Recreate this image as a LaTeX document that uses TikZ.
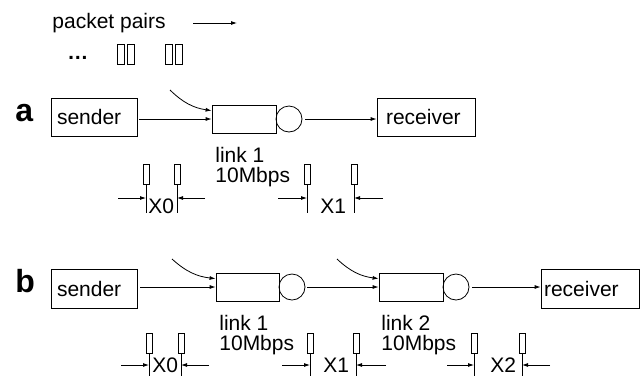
\documentclass[tikz,border=0pt]{standalone}
\usepackage{fontspec}
\setmainfont{Liberation Sans}
\usetikzlibrary{arrows.meta,calc}
\begin{document}
\begin{tikzpicture}[x=1pt,y=-1pt,
  line width=0.8pt,
  txt/.style={inner sep=0pt, font=\fontsize{21}{20}\selectfont},
  lab/.style={inner sep=0pt, font=\fontsize{32}{32}\selectfont\bfseries},
  arr/.style={-{Latex[length=6pt,width=4pt]}},
  hostbox/.style={draw, minimum height=38pt, inner ysep=0pt, align=left, font=\fontsize{21}{20}\selectfont},
  queue/.style={draw, minimum width=64pt, minimum height=28pt, inner sep=0pt},
  server/.style={draw, circle, minimum size=26pt, inner sep=0pt},
  pkt/.style={draw, minimum width=6pt, minimum height=20pt, inner sep=0pt},
  ppkt/.style={draw, minimum width=7pt, minimum height=20pt, inner sep=0pt}]
\useasboundingbox (0,0) rectangle (644,376);

% legend
\node[txt, anchor=base west] (pp) at (52,28) {packet pairs};
\coordinate (pa) at (193,23);
\coordinate (pb) at (237,23);
\draw[arr] (pa) -- (pb);
\node[txt, anchor=base west, font=\fontsize{21}{20}\selectfont\bfseries] (dots) at (67,59) {…};
\node[ppkt] (pp1) at (120.5,54) {};
\node[ppkt] (pp2) at (130.5,54) {};
\node[ppkt] (pp3) at (168.5,54) {};
\node[ppkt] (pp4) at (178.5,54) {};

% ---------- row a ----------
\node[lab, anchor=base west] (la) at (15,121) {a};
\node[hostbox, text width=74pt, inner xsep=6pt] (sa) at (94,117) {sender};
\node[queue] (qa) at (244,119) {};
\node[server] (ca) at (289,119) {};
\node[hostbox, text width=80pt, inner xsep=9pt] (ra) at (426,117) {receiver};
\draw[arr, shorten <=2pt] (sa.east |- qa.west) -- (qa.west);
\draw[arr, shorten <=3pt] (ca.east) -- (ca.east -| ra.west);
\coordinate (ina) at (170,90);
\draw[arr] (ina) to[bend right=18] ($(qa.north west)+(0,6)$);
\node[txt, anchor=base west] (lka) at (215,162) {link 1};
\node[txt, anchor=base west] (rta) at (215,182) {10Mbps};

\foreach \n/\x in {1/146,2/177,3/307,4/354}{
  \node[pkt] (pa\n) at (\x,174) {};
  \draw (pa\n.south) -- ++(0,29);
}
\coordinate (aa1) at (118,198);
\coordinate (aa2) at (205,198);
\coordinate (aa3) at (278,198);
\coordinate (aa4) at (383,198);
\draw[arr] (aa1) -- (aa1 -| pa1);
\draw[arr] (aa2) -- (aa2 -| pa2);
\draw[arr] (aa3) -- (aa3 -| pa3);
\draw[arr] (aa4) -- (aa4 -| pa4);
\node[txt, anchor=base west] (xa0) at (148,213) {X0};
\node[txt, anchor=base west] (xa1) at (320,213) {X1};

% ---------- row b ----------
\node[lab, anchor=base west] (lb) at (15,292) {b};
\node[hostbox, text width=74pt, inner xsep=6pt, minimum height=39pt] (sb) at (94,288.5) {sender};
\node[queue, minimum width=63pt] (qb1) at (247.5,287) {};
\node[server] (cb1) at (292,287) {};
\node[queue] (qb2) at (411,287) {};
\node[server] (cb2) at (456,287) {};
\node[hostbox, text width=92pt, inner xsep=3pt, minimum height=39pt] (rb) at (590,288.5) {receiver};
\draw[arr, shorten <=3pt] (sb.east |- qb1.west) -- (qb1.west);
\draw[arr, shorten <=2pt] (cb1.east) -- (qb2.west);
\draw[arr, shorten <=3pt] (cb2.east) -- (cb2.east -| rb.west);
\coordinate (inb1) at (172,259);
\coordinate (inb2) at (337,259);
\draw[arr] (inb1) to[bend right=18] ($(qb1.north west)+(0,6)$);
\draw[arr] (inb2) to[bend right=18] ($(qb2.north west)+(0,6)$);
\node[txt, anchor=base west] (lkb1) at (219,330) {link 1};
\node[txt, anchor=base west] (rtb1) at (219,350) {10Mbps};
\node[txt, anchor=base west] (lkb2) at (381,330) {link 2};
\node[txt, anchor=base west] (rtb2) at (381,350) {10Mbps};

\foreach \n/\x in {1/149,2/181,3/310,4/356,5/474,6/522}{
  \node[pkt] (pb\n) at (\x,343) {};
  \draw (pb\n.south) -- ++(0,23);
}
\coordinate (ab1) at (121,365);
\coordinate (ab2) at (209,365);
\coordinate (ab3) at (282,365);
\coordinate (ab4) at (386,365);
\coordinate (ab5) at (447,365);
\coordinate (ab6) at (550,365);
\draw[arr] (ab1) -- (ab1 -| pb1);
\draw[arr] (ab2) -- (ab2 -| pb2);
\draw[arr] (ab3) -- (ab3 -| pb3);
\draw[arr] (ab4) -- (ab4 -| pb4);
\draw[arr] (ab5) -- (ab5 -| pb5);
\draw[arr] (ab6) -- (ab6 -| pb6);
\node[txt, anchor=base west] (xb0) at (152,372) {X0};
\node[txt, anchor=base west] (xb1) at (323,372) {X1};
\node[txt, anchor=base west] (xb2) at (490,372) {X2};
\end{tikzpicture}
\end{document}
